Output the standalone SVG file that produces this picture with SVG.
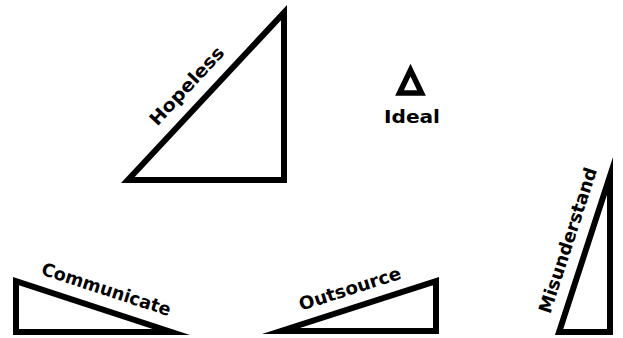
<svg xmlns="http://www.w3.org/2000/svg" width="623" height="338" viewBox="0 0 623 338">
<style>
.tri{fill:#fff;stroke:#000;stroke-width:6;stroke-linejoin:miter;stroke-miterlimit:12}
.lbl{font-family:"DejaVu Sans","Liberation Sans",sans-serif;font-weight:bold;font-size:18px;fill:#000;text-anchor:middle}
</style>
<rect width="623" height="338" fill="#fff"/>
<g id="hopeless">
<polygon class="tri" points="127.9,180 284,180 284,12.6"/>
<text class="lbl" transform="translate(202.2,100.3) rotate(-47)" y="-15" textLength="100" lengthAdjust="spacingAndGlyphs">Hopeless</text>
</g>
<g id="ideal">
<polygon class="tri" style="stroke-width:5.5" points="399.5,93 421.5,93 410.5,70"/>
<text class="lbl" x="412" y="123" textLength="56" lengthAdjust="spacingAndGlyphs">Ideal</text>
</g>
<g id="communicate">
<polygon class="tri" points="16,281.1 16,332 171.2,332"/>
<text class="lbl" transform="translate(100,308.5) rotate(18.1)" y="-14" textLength="135" lengthAdjust="spacingAndGlyphs">Communicate</text>
</g>
<g id="outsource">
<polygon class="tri" points="281.1,331 436,331 436,281.1"/>
<text class="lbl" transform="translate(355.8,307) rotate(-17.85)" y="-13" textLength="106" lengthAdjust="spacingAndGlyphs">Outsource</text>
</g>
<g id="misunderstand">
<polygon class="tri" points="559.1,332 610,332 610,175.9"/>
<text class="lbl" transform="translate(587,246.5) rotate(-71.95)" y="-14" textLength="152" lengthAdjust="spacingAndGlyphs">Misunderstand</text>
</g>
<g id="connectors"></g>
</svg>
